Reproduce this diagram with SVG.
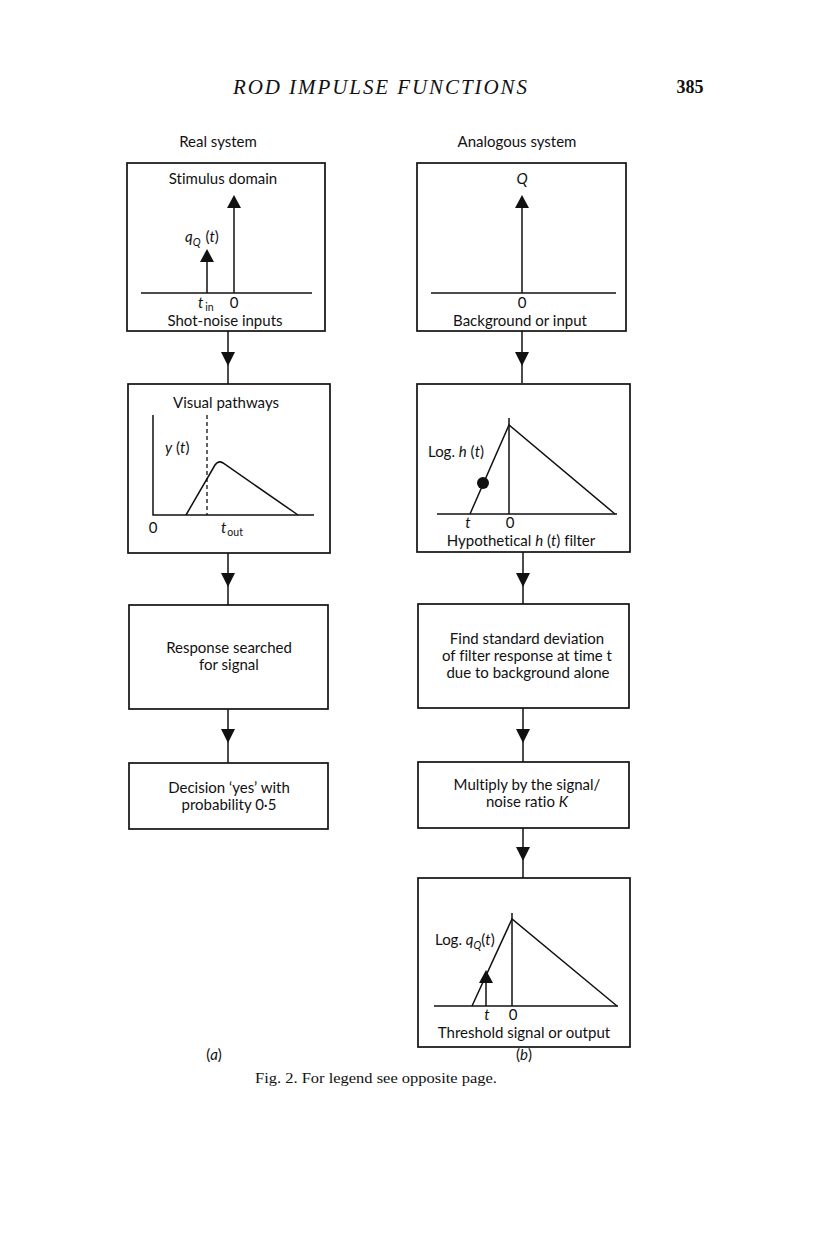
<svg xmlns="http://www.w3.org/2000/svg" xmlns:xlink="http://www.w3.org/1999/xlink" width="816" height="1258" viewBox="0 0 816 1258">
<style>
.bg{fill:#fff}
.box{fill:none;stroke:#111;stroke-width:1.7}
.ln{fill:none;stroke:#111;stroke-width:1.5}
.dash{fill:none;stroke:#111;stroke-width:1.3;stroke-dasharray:4 3}
.t{font-family:Lato,"Open Sans","Liberation Sans",sans-serif;font-size:15px;fill:#111;font-variant-ligatures:none}
.c{text-anchor:middle}
.i{font-style:italic}
.sub{font-size:10.5px}
.hd{font-family:"Liberation Serif",serif;font-size:21px;font-style:italic;fill:#111}
.pg{font-family:"Liberation Serif",serif;font-size:18px;font-weight:bold;fill:#111}
.cap{font-family:"Liberation Serif",serif;font-size:15.5px;fill:#111}
</style>
<defs>
<path id="down" d="M-7,0 L7,0 L0,14 Z" fill="#111"/>
<path id="up" d="M-7,13 L7,13 L0,0 Z" fill="#111"/>
</defs>
<rect class="bg" x="0" y="0" width="816" height="1258"/>

<g id="header">
<text class="hd" x="233" y="94" textLength="294" lengthAdjust="spacing">ROD IMPULSE FUNCTIONS</text>
<text class="pg" x="690" y="93" text-anchor="middle">385</text>
<text class="t c" x="218" y="147">Real system</text>
<text class="t c" x="517" y="147">Analogous system</text>
</g>

<g id="connectors">
<line class="ln" x1="228" y1="331" x2="228" y2="384"/>
<use xlink:href="#down" x="228" y="352"/>
<line class="ln" x1="228" y1="553" x2="228" y2="605"/>
<use xlink:href="#down" x="228" y="573"/>
<line class="ln" x1="228" y1="709" x2="228" y2="763"/>
<use xlink:href="#down" x="228" y="729"/>
<line class="ln" x1="522" y1="331" x2="522" y2="383"/>
<use xlink:href="#down" x="522" y="352"/>
<line class="ln" x1="523" y1="552" x2="523" y2="604"/>
<use xlink:href="#down" x="523" y="573"/>
<line class="ln" x1="523" y1="708" x2="523" y2="762"/>
<use xlink:href="#down" x="523" y="729"/>
<line class="ln" x1="523" y1="828" x2="523" y2="878"/>
<use xlink:href="#down" x="523" y="847"/>
</g>

<g id="stimulus">
<rect class="box" x="127" y="163" width="198" height="168"/>
<text class="t c" x="223" y="184">Stimulus domain</text>
<line class="ln" x1="141" y1="293" x2="312" y2="293"/>
<line class="ln" x1="234" y1="293" x2="234" y2="205"/>
<use xlink:href="#up" x="234" y="195"/>
<line class="ln" x1="207" y1="293" x2="207" y2="258"/>
<use xlink:href="#up" x="207" y="249"/>
<text class="t" x="185" y="242"><tspan class="i">q</tspan><tspan class="i sub" dy="4">Q</tspan><tspan dy="-4" dx="5">(</tspan><tspan class="i">t</tspan><tspan>)</tspan></text>
<text class="t" x="198" y="308"><tspan class="i">t</tspan><tspan class="sub" dx="2" dy="3">in</tspan></text>
<text class="t c" x="234" y="308">0</text>
<text class="t c" x="225" y="326">Shot-noise inputs</text>
</g>

<g id="visual">
<rect class="box" x="128" y="384" width="202" height="169"/>
<text class="t c" x="226" y="408">Visual pathways</text>
<polyline class="ln" points="153,415 153,515 314,515"/>
<path class="ln" d="M186 515 L215 465 Q218 460 223 463 L298 515"/>
<line class="dash" x1="207" y1="415" x2="207" y2="515"/>
<text class="t" x="165" y="453"><tspan class="i">y</tspan> (<tspan class="i">t</tspan>)</text>
<text class="t c" x="153" y="533">0</text>
<text class="t" x="221" y="533"><tspan class="i">t</tspan><tspan class="sub" dx="1" dy="3">out</tspan></text>
</g>

<g id="response">
<rect class="box" x="129" y="605" width="199" height="104"/>
<text class="t c" x="229" y="653">Response searched</text>
<text class="t c" x="229" y="670">for signal</text>
</g>

<g id="decision">
<rect class="box" x="129" y="763" width="199" height="66"/>
<text class="t c" x="229" y="793">Decision ‘yes’ with</text>
<text class="t c" x="229" y="810">probability 0·5</text>
</g>

<g id="background">
<rect class="box" x="417" y="163" width="209" height="168"/>
<text class="t c i" x="522" y="184">Q</text>
<line class="ln" x1="431" y1="293" x2="616" y2="293"/>
<line class="ln" x1="522" y1="293" x2="522" y2="205"/>
<use xlink:href="#up" x="522" y="195"/>
<text class="t c" x="522" y="308">0</text>
<text class="t c" x="520" y="326">Background or input</text>
</g>

<g id="filter">
<rect class="box" x="417" y="384" width="213" height="168"/>
<line class="ln" x1="437" y1="514" x2="617" y2="514"/>
<line class="ln" x1="509" y1="418" x2="509" y2="514"/>
<polyline class="ln" points="470,514 509,425 615,514"/>
<circle cx="483" cy="483" r="6" fill="#111"/>
<text class="t" x="428" y="457">Log. <tspan class="i">h</tspan> (<tspan class="i">t</tspan>)</text>
<text class="t c i" x="468" y="528">t</text>
<text class="t c" x="510" y="528">0</text>
<text class="t c" x="521" y="546">Hypothetical <tspan class="i">h</tspan> (<tspan class="i">t</tspan>) filter</text>
</g>

<g id="stddev">
<rect class="box" x="418" y="604" width="211" height="104"/>
<text class="t c" x="527" y="644">Find standard deviation</text>
<text class="t c" x="527" y="661">of filter response at time t</text>
<text class="t c" x="528" y="678">due to background alone</text>
</g>

<g id="multiply">
<rect class="box" x="418" y="762" width="211" height="66"/>
<text class="t c" x="527" y="790">Multiply by the signal/</text>
<text class="t c" x="527" y="807">noise ratio <tspan class="i">K</tspan></text>
</g>

<g id="threshold">
<rect class="box" x="418" y="878" width="212" height="169"/>
<line class="ln" x1="434" y1="1006" x2="618" y2="1006"/>
<line class="ln" x1="512" y1="913" x2="512" y2="1006"/>
<polyline class="ln" points="472,1006 512,919 617,1006"/>
<line class="ln" x1="486" y1="1006" x2="486" y2="978"/>
<use xlink:href="#up" x="486" y="970"/>
<text class="t" x="435" y="945">Log. <tspan class="i">q</tspan><tspan class="i sub" dy="4">Q</tspan><tspan dy="-4">(</tspan><tspan class="i">t</tspan>)</text>
<text class="t c i" x="487" y="1020">t</text>
<text class="t c" x="513" y="1020">0</text>
<text class="t c" x="524" y="1038">Threshold signal or output</text>
</g>

<g id="captions">
<text class="t c" x="214" y="1060">(<tspan class="i">a</tspan>)</text>
<text class="t c" x="524" y="1060">(<tspan class="i">b</tspan>)</text>
<text class="cap" x="255" y="1083" textLength="242" lengthAdjust="spacingAndGlyphs">Fig. 2. For legend see opposite page.</text>
</g>
</svg>
